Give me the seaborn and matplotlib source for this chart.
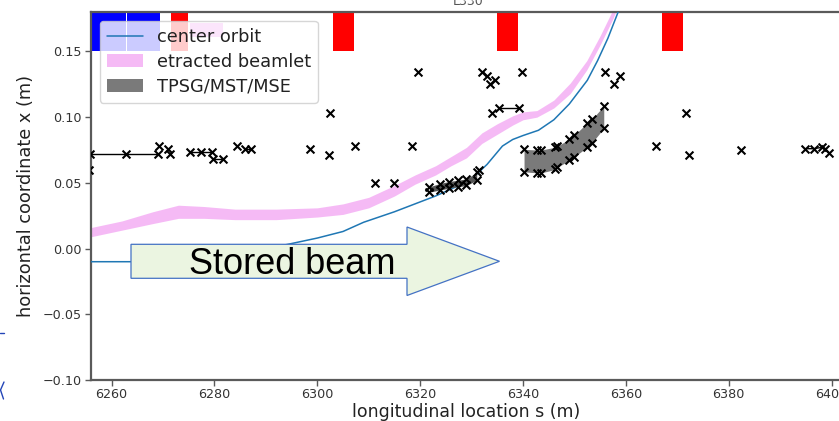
import numpy as np
import pandas as pd
import matplotlib
matplotlib.use("Agg")
import matplotlib.pyplot as plt
from matplotlib.patches import Rectangle, Patch, Polygon
from matplotlib.lines import Line2D
import seaborn as sns

# ---- centre orbit of the stored beam ----
orbit_s = [6256, 6266, 6274, 6280, 6286, 6294, 6300, 6305, 6309, 6315, 6319, 6323,
           6327, 6330, 6333, 6336, 6338, 6340, 6343, 6346, 6349, 6352.5, 6354.5,
           6356.5, 6358.5, 6360]
orbit_x = [-0.010, -0.010, -0.009, -0.007, -0.003, 0.003, 0.008, 0.013, 0.020, 0.028,
           0.034, 0.040, 0.047, 0.053, 0.064, 0.078, 0.083, 0.086, 0.090, 0.098,
           0.110, 0.128, 0.143, 0.160, 0.180, 0.195]

# ---- extracted beamlet envelope ----
beam_s = [6256, 6262, 6268, 6273, 6278, 6284, 6292, 6300, 6305, 6310, 6315, 6319,
          6323, 6326, 6329, 6332, 6335, 6338, 6340, 6342.7, 6346, 6349.2, 6352.4,
          6355, 6357.5, 6359]
beam_lo = [0.009, 0.014, 0.019, 0.023, 0.023, 0.022, 0.022, 0.024, 0.026, 0.031,
           0.040, 0.049, 0.056, 0.063, 0.069, 0.080, 0.087, 0.094, 0.098, 0.100,
           0.107, 0.118, 0.136, 0.155, 0.175, 0.190]
beam_hi = [0.016, 0.021, 0.028, 0.033, 0.032, 0.030, 0.030, 0.031, 0.034, 0.039,
           0.048, 0.056, 0.063, 0.070, 0.077, 0.088, 0.095, 0.101, 0.104, 0.105,
           0.113, 0.126, 0.143, 0.162, 0.182, 0.197]

# ---- septum apertures (TPSG / MST / MSE) ----
tpsg_s = [6340.2, 6342.7, 6343.5, 6346.3, 6346.7, 6349.0, 6350.0, 6352.4, 6353.4, 6355.7]
tpsg_hi = [0.0755, 0.0750, 0.0750, 0.0771, 0.0781, 0.0831, 0.0864, 0.0953, 0.0984, 0.1085]
tpsg_lo = [0.0584, 0.0576, 0.0576, 0.0602, 0.0618, 0.0673, 0.0698, 0.0770, 0.0805, 0.0915]

tpsg2_s = [6321.8, 6323.8, 6325.6, 6327.3, 6329.0, 6331.0]
tpsg2_hi = [0.0470, 0.0495, 0.0510, 0.0520, 0.0530, 0.0580]
tpsg2_lo = [0.0430, 0.0445, 0.0460, 0.0470, 0.0480, 0.0520]

# ---- aperture limits of other elements ----
aper_s = [6255.6, 6269.3, 6271.0, 6271.4, 6284.3, 6298.6, 6302.2, 6302.5, 6307.4,
          6311.2, 6314.9, 6318.4, 6319.6, 6331.4, 6332.0, 6333.0, 6333.5, 6334.6,
          6334.0, 6339.8, 6356.0, 6357.6, 6358.9, 6365.9, 6371.6, 6372.2, 6382.4,
          6398.8, 6399.4]
aper_x = [0.060, 0.078, 0.076, 0.072, 0.078, 0.0755, 0.071, 0.1035, 0.078,
          0.050, 0.050, 0.078, 0.1347, 0.0597, 0.1347, 0.1314, 0.1253, 0.1284,
          0.1035, 0.1347, 0.1347, 0.1253, 0.1314, 0.078, 0.1035, 0.071, 0.075,
          0.0755, 0.0724]

# apertures joined by a line (same element, several positions)
run1_s = [6255.8, 6262.9, 6269.1]
run1_x = [0.0717, 0.0717, 0.0717]
run2_s = [6275.3, 6277.3, 6279.5]
run2_x = [0.0737, 0.0737, 0.0737]
run3_s = [6279.8, 6281.6]
run3_x = [0.0679, 0.0679]
run4_s = [6286.0, 6287.2]
run4_x = [0.0760, 0.0760]
run5_s = [6335.3, 6339.2]
run5_x = [0.1070, 0.1070]
run6_s = [6394.9, 6396.5, 6398.1]
run6_x = [0.0760, 0.0760, 0.0770]

# ---- magnets drawn on the top strip ----
red_start = [6271.6, 6303.1, 6335.0, 6367.1]
red_end = [6274.9, 6307.2, 6339.1, 6371.2]
blue_start = [6254.0, 6262.95]
blue_end = [6262.75, 6269.4]
violet_start = [6275.3]
violet_end = [6281.7]

W, H = 839, 421
sns.set_style("white")
plt.rcParams["font.family"] = ["DejaVu Sans"]
plt.rcParams["axes.unicode_minus"] = True

fig = plt.figure(figsize=(W / 100, H / 100), dpi=100)
ax = fig.add_axes([91 / W, (H - 380) / H, (850 - 91) / W, 368 / H])

px_per_m = 5.143
ax.set_xlim(6256, 6256 + (850 - 91) / px_per_m)
ax.set_ylim(-0.10, 0.18)

# beamlet envelope
ax.fill_between(beam_s, beam_lo, beam_hi, color="violet", alpha=0.55, lw=0, zorder=2)

# centre orbit
orbit = pd.DataFrame({"s": orbit_s, "x": orbit_x})
sns.lineplot(data=orbit, x="s", y="x", ax=ax, color="#1f77b4", lw=1.1, zorder=3)

# septum apertures
ax.fill_between(tpsg_s, tpsg_lo, tpsg_hi, color="#7a7a7a", lw=0, zorder=3)
ax.fill_between(tpsg2_s, tpsg2_lo, tpsg2_hi, color="#555555", lw=0, zorder=3)

mk = dict(marker="x", s=32, color="black", linewidth=1.5, zorder=5, legend=False)
edge_s = tpsg_s + tpsg_s + tpsg2_s + tpsg2_s
edge_x = tpsg_hi + tpsg_lo + tpsg2_hi + tpsg2_lo
sns.scatterplot(x=edge_s, y=edge_x, ax=ax, **mk)
sns.scatterplot(x=aper_s, y=aper_x, ax=ax, **mk)

for rs, rx in [(run1_s, run1_x), (run2_s, run2_x), (run3_s, run3_x),
               (run4_s, run4_x), (run5_s, run5_x), (run6_s, run6_x)]:
    ax.plot(rs, rx, color="black", lw=1.0, zorder=4)
    sns.scatterplot(x=rs, y=rx, ax=ax, **mk)

# magnets along the top
for a, b in zip(blue_start, blue_end):
    ax.add_patch(Rectangle((a, 0.15), b - a, 0.03, color="blue", lw=0, zorder=2))
for a, b in zip(red_start, red_end):
    ax.add_patch(Rectangle((a, 0.15), b - a, 0.03, color="red", lw=0, zorder=2))
for a, b in zip(violet_start, violet_end):
    ax.add_patch(Rectangle((a, 0.161), b - a, 0.011, color="violet", lw=0, zorder=2))

ax.set_yticks([-0.10, -0.05, 0.00, 0.05, 0.10, 0.15])
ax.set_xticks([6260, 6280, 6300, 6320, 6340, 6360, 6380, 6400])
ax.yaxis.set_major_formatter(matplotlib.ticker.FuncFormatter(
    lambda v, p: ("%.2f" % v).replace("-", "\u2212")))

for side in ["left", "bottom", "top", "right"]:
    ax.spines[side].set_color("#5a5a5a")
    ax.spines[side].set_linewidth(1.6)
ax.tick_params(direction="out", length=4, width=1, color="#5a5a5a",
               labelcolor="#333333", labelsize=9.2, bottom=True, left=True)
ax.tick_params(axis="x", pad=2)
ax.tick_params(axis="y", pad=3)

ax.set_xlabel("longitudinal location s (m)", fontsize=12.5, color="#222222")
ax.set_ylabel("horizontal coordinate x (m)", fontsize=12.8, color="#222222")
ax.xaxis.set_label_coords((466 - 91) / (850 - 91), -(412 - 380) / 368)
ax.yaxis.set_label_coords(-(91 - 26) / (850 - 91), 0.5)
ax.xaxis.label.set_va("center")
ax.yaxis.label.set_va("center")

handles = [Line2D([0], [0], color="#1f77b4", lw=1.1),
           Patch(facecolor="violet", alpha=0.55, lw=0),
           Patch(facecolor="#7a7a7a", lw=0)]
leg = ax.legend(handles, ["center orbit", "etracted beamlet", "TPSG/MST/MSE"],
                loc="upper left", fontsize=12.8, framealpha=0.8,
                edgecolor="#cccccc", fancybox=True, labelspacing=0.38,
                borderaxespad=0.5)
leg.set_zorder(10)
for t in leg.get_texts():
    t.set_color("#222222")

# section label above the plot
fig.text(468 / W, 1 - 5 / H, "L330", fontsize=9, ha="center", va="baseline",
         color="#555555")

# "Stored beam" block arrow
def fp(x, y):
    return (x / W, 1 - y / H)

arrow_pts = [fp(131, 244.3), fp(407, 244.3), fp(407, 227), fp(499.5, 261.3),
             fp(407, 295.5), fp(407, 278.3), fp(131, 278.3)]
fig.add_artist(Polygon(arrow_pts, closed=True, facecolor="#ebf5e1",
                       edgecolor="#4472c4", lw=0.9, transform=fig.transFigure,
                       zorder=20))
fig.text(292.5 / W, 1 - 274 / H, "Stored beam", fontsize=26,
         family=["Liberation Sans", "DejaVu Sans"], ha="center", va="baseline",
         color="black", zorder=21)

# margin marks at the left edge
for xs, ys in [([0, 3.5], [333, 333]), ([4, 0.5, 3.5], [382, 390, 399])]:
    fig.add_artist(Line2D([x / W for x in xs], [1 - y / H for y in ys],
                          color="#2446b8", lw=1.0, transform=fig.transFigure))

fig.savefig("out.png", dpi=100)
